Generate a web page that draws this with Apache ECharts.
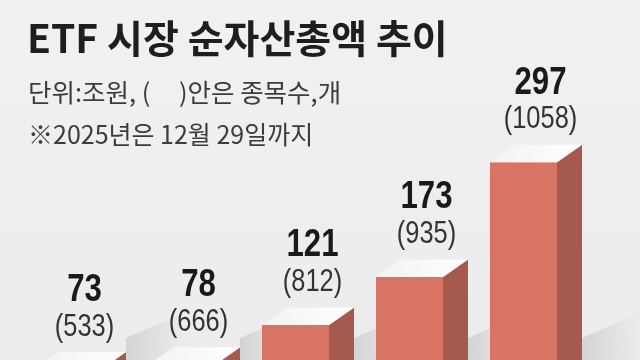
<!DOCTYPE html>
<html>
<head>
<meta charset="utf-8">
<script src="https://cdn.jsdelivr.net/npm/echarts@6/dist/echarts.min.js"></script>
<style>
html,body{margin:0;padding:0;background:#efefef;}
#c{width:640px;height:360px;}
</style>
</head>
<body>
<div id="c"></div>
<script>
var categories = ['2021', '2022', '2023', '2024', '2025'];
var assets = [73, 78, 121, 173, 297];      // 조원
var counts = [533, 666, 812, 935, 1058];   // 종목수
var titleText = 'ETF 시장 순자산총액 추이';
var noteLine1 = '단위:조원, (     )안은 종목수,개';
var noteLine2 = '※2025년은 12월 29일까지';

var NUM_FONT = "'Liberation Sans', Arial, sans-serif";
var KR_FONT = "'Noto Sans CJK KR', 'Noto Sans', sans-serif";

var data = categories.map(function (c, i) { return [i, assets[i], counts[i]]; });

var chart = echarts.init(document.getElementById('c'), null, {renderer: 'canvas'});
chart.setOption({
  backgroundColor: {
    type: 'linear', x: 0, y: 0, x2: 0, y2: 1,
    colorStops: [{offset: 0, color: '#f1f1f1'}, {offset: 1, color: '#ececec'}]
  },
  animation: false,
  title: [
    {text: titleText, left: 22, top: 14,
     textStyle: {fontFamily: KR_FONT, fontSize: 39, fontWeight: 'bold', color: '#1e1e1e'}},
    {text: noteLine1, left: 23, top: 75,
     textStyle: {fontFamily: KR_FONT, fontSize: 25.5, fontWeight: 'normal', color: '#3c3c3c'}},
    {text: noteLine2, left: 23, top: 117,
     textStyle: {fontFamily: KR_FONT, fontSize: 25, fontWeight: 'normal', color: '#3c3c3c'}}
  ],
  grid: {left: 10.5, width: 570, top: 159.5, height: 277.5, outerBoundsMode: 'none', containLabel: false},
  xAxis: {type: 'category', data: categories, show: false},
  yAxis: {type: 'value', min: 0, max: 300, show: false},
  series: [{
    type: 'custom',
    data: data,
    clip: false,
    renderItem: function (params, api) {
      var p = api.coord([api.value(0), api.value(1)]);
      var b = api.coord([api.value(0), 0]);
      var w = 67, dx = 25, dy = 17.5;
      var l = p[0] - w / 2, r = p[0] + w / 2, t = p[1], bt = b[1];
      var cx = p[0] + 17;
      return {
        type: 'group',
        children: [
          {type: 'polygon', shape: {points: [[r + dx, 338], [r + dx + 60, 312], [r + dx + 60, 370], [r + dx, 370]]},
           style: {fill: {type: 'linear', x: 0, y: 0, x2: 1, y2: 0,
             colorStops: [{offset: 0, color: 'rgba(0,0,0,0.10)'}, {offset: 1, color: 'rgba(0,0,0,0)'}]}}},
          {type: 'polygon', shape: {points: [[r, t], [r + dx, t - dy], [r + dx, bt - dy], [r, bt]]},
           style: {fill: '#a65a4f'}},
          {type: 'rect', shape: {x: l, y: t, width: w, height: bt - t},
           style: {fill: '#d87463'}},
          {type: 'polygon', shape: {points: [[l, t], [l + dx, t - dy], [r + dx, t - dy], [r, t]]},
           style: {fill: {type: 'linear', x: 0, y: 1, x2: 1, y2: 0,
             colorStops: [{offset: 0, color: '#f2f2f2'}, {offset: 1, color: '#ffffff'}]}}},
          {type: 'text', x: cx, y: t - dy - 62, scaleX: 0.8,
           style: {text: String(api.value(1)), x: 0, y: 0,
             align: 'center', verticalAlign: 'middle', fill: '#1a1a1a',
             font: 'bold 39px ' + NUM_FONT}},
          {type: 'text', x: cx, y: t - dy - 25, scaleX: 0.82,
           style: {text: '(' + api.value(2) + ')', x: 0, y: 0,
             align: 'center', verticalAlign: 'middle', fill: '#333333',
             font: 'normal 31px ' + NUM_FONT}}
        ]
      };
    }
  }]
});
</script>
</body>
</html>
